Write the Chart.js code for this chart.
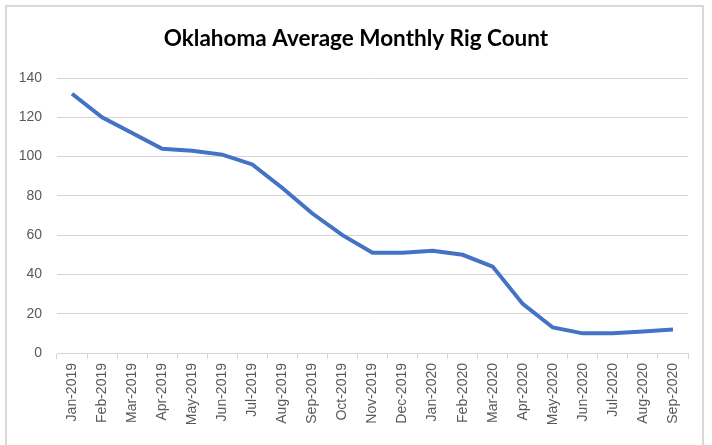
<!DOCTYPE html>
<html>
<head>
<meta charset="utf-8">
<script src="https://cdn.jsdelivr.net/npm/chart.js@4/dist/chart.umd.min.js"></script>
<style>
    html, body { margin: 0; padding: 0; background: #ffffff; }
    #wrap { position: relative; width: 712px; height: 445px; overflow: hidden; }
    #frame { position: absolute; left: 5px; top: 5px; width: 699px; height: 450px; border: 2px solid #d9d9d9; box-sizing: border-box; }
    #chart { position: absolute; left: 0; top: 0; }
</style>
</head>
<body>
<div id="wrap">
    <div id="frame"></div>
    <canvas id="chart" width="712" height="445"></canvas>
</div>
<script>
// Months shown on the x axis
const months = [
    'Jan-2019', 'Feb-2019', 'Mar-2019', 'Apr-2019', 'May-2019', 'Jun-2019',
    'Jul-2019', 'Aug-2019', 'Sep-2019', 'Oct-2019', 'Nov-2019', 'Dec-2019',
    'Jan-2020', 'Feb-2020', 'Mar-2020', 'Apr-2020', 'May-2020', 'Jun-2020',
    'Jul-2020', 'Aug-2020', 'Sep-2020'
];

// Average monthly rig count
const rigCount = [132, 120, 112, 104, 103, 101, 96, 84, 71, 60, 51, 51, 52, 50, 44, 25, 13, 10, 10, 11, 12];

// Y axis range
const yMin = 0;
const yMax = 140;
const yStep = 20;

const titleText = 'Oklahoma Average Monthly Rig Count';
const axisColor = '#595959';
const gridColor = '#d4d4d4';

// Title centred on the whole canvas (like the Excel chart), not on the plot
const canvasTitle = {
    id: 'canvasTitle',
    afterDraw(chart) {
        const c = chart.ctx;
        c.save();
        c.font = 'bold 22.5px Lato';
        c.fillStyle = '#000000';
        c.textAlign = 'center';
        c.textBaseline = 'middle';
        c.fillText(titleText, chart.width / 2, 39);
        c.restore();
    }
};

const ctx = document.getElementById('chart').getContext('2d');

new Chart(ctx, {
    type: 'line',
    data: {
        labels: months,
        datasets: [{
            label: 'Rig Count',
            data: rigCount,
            borderColor: '#4472C4',
            borderWidth: 4,
            pointRadius: 0,
            tension: 0,
            fill: false
        }]
    },
    options: {
        responsive: false,
        animation: false,
        layout: {
            padding: { top: 78, left: 10, right: 24, bottom: 0 }
        },
        plugins: {
            legend: { display: false },
            tooltip: { enabled: false },
            title: { display: false }
        },
        scales: {
            x: {
                offset: true,
                grid: {
                    offset: true,
                    drawOnChartArea: false,
                    drawTicks: true,
                    tickLength: 6,
                    color: gridColor
                },
                border: { display: true, color: gridColor, width: 1 },
                ticks: {
                    color: axisColor,
                    font: { family: 'Liberation Sans', size: 14 },
                    minRotation: 90,
                    maxRotation: 90,
                    autoSkip: false,
                    padding: 4
                },
                afterFit: (scale) => { scale.height = 92; }
            },
            y: {
                min: yMin,
                max: yMax,
                grid: {
                    color: gridColor,
                    lineWidth: 1,
                    drawTicks: false
                },
                border: { display: false },
                ticks: {
                    stepSize: yStep,
                    color: axisColor,
                    font: { family: 'Liberation Sans', size: 14 },
                    padding: 15
                },
                afterFit: (scale) => { scale.width = 47; }
            }
        }
    },
    plugins: [canvasTitle]
});
</script>
</body>
</html>
